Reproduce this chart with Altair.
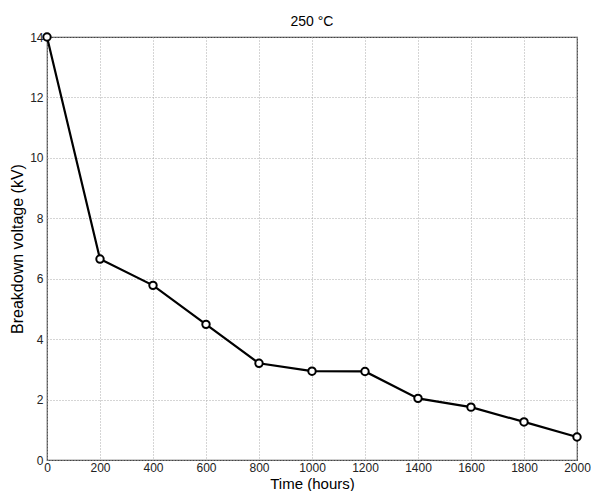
import altair as alt
import pandas as pd

hours = [0, 200, 400, 600, 800, 1000, 1200, 1400, 1600, 1800, 2000]
voltage = [14.0, 6.65, 5.78, 4.49, 3.2, 2.94, 2.93, 2.04, 1.75, 1.26, 0.76]

df = pd.DataFrame({"hours": hours, "voltage": voltage})

x = alt.X("hours:Q", title="Time (hours)",
          scale=alt.Scale(domain=[0, 2000], nice=False, zero=False),
          axis=alt.Axis(values=list(range(0, 2001, 200)), format="d"))
y = alt.Y("voltage:Q", title="Breakdown voltage (kV)",
          scale=alt.Scale(domain=[0, 14], nice=False),
          axis=alt.Axis(values=list(range(0, 15, 2))))

line = alt.Chart(df).mark_line(color="black", strokeWidth=2.2).encode(x=x, y=y)
pts = alt.Chart(df).mark_point(shape="circle", filled=True, fill="white",
                               stroke="black", strokeWidth=2, size=55, opacity=1).encode(x=x, y=y)

chart = (line + pts).properties(
    width=530, height=423,
    background="white",
    title=alt.TitleParams("250 °C", fontSize=14, fontWeight="normal",
                          font="Liberation Sans", color="black", offset=0),
    autosize=alt.AutoSizeParams(type="none"),
    padding={"left": 39, "top": 29, "right": 14, "bottom": 31},
).configure_view(stroke="#444", strokeWidth=1.2).configure_axis(
    grid=True, gridColor="#aaa", gridDash=[1, 2], gridWidth=1,
    domain=False, ticks=False, labelFlush=False,
    labelFont="Liberation Sans", labelFontSize=12, labelColor="#222",
    titleFont="Liberation Sans", titleFontSize=16, titleFontWeight="normal",
    titleColor="black",
).configure_axisX(labelPadding=2, titlePadding=3, titleFontSize=15).configure_axisY(
    labelPadding=4, titlePadding=4
)

chart.save("out.html", embed_options={"renderer": "svg", "actions": False})
